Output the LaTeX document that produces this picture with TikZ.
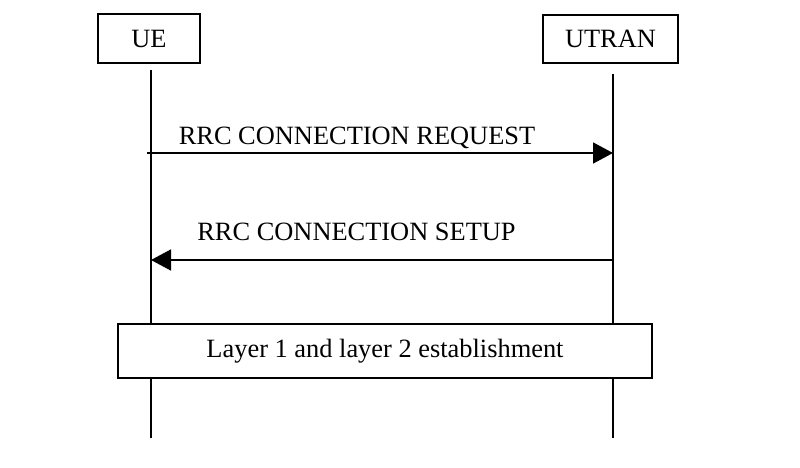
\documentclass[tikz,border=0pt]{standalone}
\usepackage{fontspec}
\setmainfont{Liberation Serif}
\usetikzlibrary{arrows.meta}
\begin{document}
\begin{tikzpicture}[x=1pt,y=-1pt,
  every node/.style={font=\fontsize{26.4}{30}\selectfont},
  entity/.style={draw,line width=1.6pt,rectangle,inner sep=0pt},
  lifeline/.style={line width=1.6pt},
  msg/.style={line width=1.6pt,-{Triangle[length=20pt,width=21pt]}},
  lbl/.style={anchor=base,inner sep=0pt}]
\useasboundingbox (0,0) rectangle (800,468);
% entities
\node[entity,minimum width=102pt,minimum height=49pt] (ue) at (149,38.5) {UE};
\node[entity,minimum width=135pt,minimum height=48pt] (utran) at (610.5,39) {UTRAN};
% lifeline end points
\coordinate (uetop) at (151,70);
\coordinate (uebot) at (151,438);
\coordinate (uttop) at (613,74);
\coordinate (utbot) at (613,438);
\draw[lifeline] (uetop) -- (uebot);
\draw[lifeline] (uttop) -- (utbot);
% messages
\coordinate (m1s) at (147,153);
\coordinate (m1e) at (613,153);
\coordinate (m2s) at (613,260);
\coordinate (m2e) at (151,260);
\draw[msg] (m1s) -- (m1e);
\node[lbl] (l1) at (357,144) {RRC CONNECTION REQUEST};
\draw[msg] (m2s) -- (m2e);
\node[lbl] (l2) at (356.5,240) {RRC CONNECTION SETUP};
% establishment box
\node[entity,fill=white,minimum width=534pt,minimum height=54pt] (est) at (385,351) {Layer 1 and layer 2 establishment};
\end{tikzpicture}
\end{document}
